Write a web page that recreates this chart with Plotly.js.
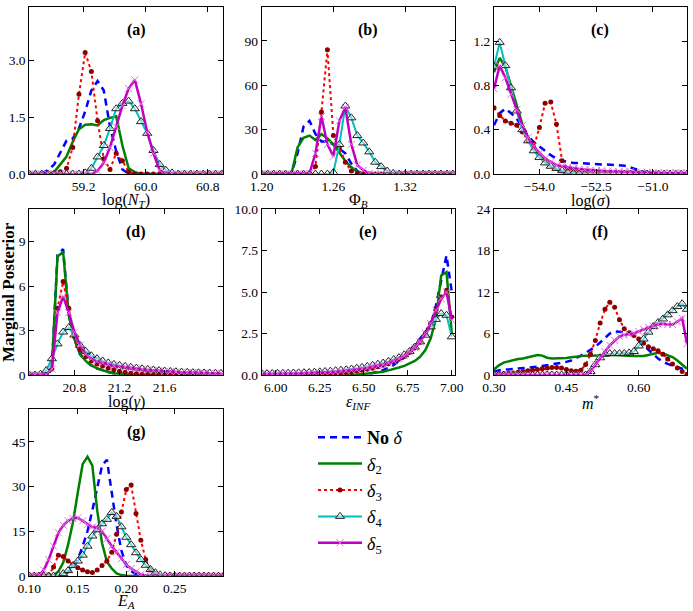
<!DOCTYPE html>
<html>
<head>
<meta charset="utf-8">
<script src="https://cdn.plot.ly/plotly-3.0.1.min.js"></script>
<style>
  html, body { margin: 0; padding: 0; background: #fff; }
  #chart { width: 693px; height: 611px; }
</style>
</head>
<body>
<div id="chart"></div>
<script>
// ---- Marginal posterior densities, one grid per parameter ----

// (a) log(N_T)
const xA = [58.50, 58.58, 58.66, 58.74, 58.82, 58.90, 58.98, 59.06, 59.14, 59.22, 59.30, 59.38, 59.46, 59.54, 59.62, 59.70, 59.78, 59.86, 59.94, 60.02, 60.10, 60.18, 60.26, 60.34, 60.42, 60.50, 60.58, 60.66, 60.74, 60.82, 60.90, 60.98];
const noDeltaA = [0, 0, 0.02, 0.1, 0.25, 0.55, 0.88, 0.93, 1.2, 1.65, 2.2, 2.45, 2.2, 1.25, 0.6, 0.12, 0.01, 0, 0, 0, 0, 0, 0, 0, 0, 0, 0, 0, 0, 0, 0, 0];
const delta2A = [0, 0, 0, 0, 0.05, 0.25, 0.46, 0.85, 1.18, 1.3, 1.31, 1.28, 1.42, 1.48, 1.52, 0.75, 0.15, 0.05, 0.01, 0, 0, 0, 0, 0, 0, 0, 0, 0, 0, 0, 0, 0];
const delta3A = [0, 0, 0, 0, 0.02, 0.06, 0.15, 0.7, 2.1, 3.2, 2.7, 1.4, 0.4, 0.12, 0.55, 0.35, 0.05, 0, 0, 0, 0, 0, 0, 0, 0, 0, 0, 0, 0, 0, 0, 0];
const delta4A = [0, 0, 0, 0, 0, 0, 0, 0, 0, 0.03, 0.15, 0.45, 0.75, 1.2, 1.72, 1.86, 1.92, 1.72, 1.38, 1.07, 0.62, 0.25, 0.1, 0.03, 0, 0, 0, 0, 0, 0, 0, 0];
const delta5A = [0, 0, 0, 0, 0, 0, 0, 0, 0, 0, 0, 0.08, 0.3, 0.7, 1.25, 1.8, 2.25, 2.48, 1.85, 1.1, 0.54, 0.1, 0.01, 0, 0, 0, 0, 0, 0, 0, 0, 0];

// (b) Phi_B
const xB = [1.200, 1.205, 1.210, 1.215, 1.220, 1.225, 1.230, 1.235, 1.240, 1.245, 1.250, 1.255, 1.260, 1.265, 1.270, 1.275, 1.280, 1.285, 1.290, 1.295, 1.300, 1.305, 1.310, 1.315, 1.320, 1.325, 1.330, 1.335, 1.340, 1.345, 1.350, 1.355, 1.360];
const noDeltaB = [0, 0, 0, 0, 0, 0.5, 14, 32, 36, 27, 22, 22, 20, 17, 14, 7, 2, 0, 0, 0, 0, 0, 0, 0, 0, 0, 0, 0, 0, 0, 0, 0, 0];
const delta2B = [0, 0, 0, 0, 0, 0.5, 18, 24.5, 26, 23, 27, 24, 20, 14, 8.8, 4.5, 1.5, 0.2, 0, 0, 0, 0, 0, 0, 0, 0, 0, 0, 0, 0, 0, 0, 0];
const delta3B = [0, 0, 0, 0, 0, 0, 0, 0, 0, 5, 42, 84, 26, 18, 8, 2, 0.3, 0, 0, 0, 0, 0, 0, 0, 0, 0, 0, 0, 0, 0, 0, 0, 0];
const delta4B = [0, 0, 0, 0, 0, 0, 0, 0, 0, 0, 0, 0, 1, 20, 46, 38, 26, 21, 15, 8, 5, 2, 0.5, 0, 0, 0, 0, 0, 0, 0, 0, 0, 0];
const delta5B = [0, 0, 0, 0, 0, 0, 0, 0, 0.5, 14, 39, 20, 12, 36, 45, 20, 6, 2.6, 0.5, 0, 0, 0, 0, 0, 0, 0, 0, 0, 0, 0, 0, 0, 0];

// (c) log(sigma)
const xC = [-55.20, -55.05, -54.90, -54.75, -54.60, -54.45, -54.30, -54.15, -54.00, -53.85, -53.70, -53.55, -53.40, -53.25, -53.10, -52.95, -52.80, -52.65, -52.50, -52.35, -52.20, -52.05, -51.90, -51.75, -51.60, -51.45, -51.30, -51.15, -51.00, -50.85, -50.70, -50.55, -50.40, -50.25, -50.10];
const noDeltaC = [0.44, 0.55, 0.59, 0.55, 0.5, 0.42, 0.34, 0.29, 0.25, 0.21, 0.17, 0.14, 0.12, 0.11, 0.1, 0.1, 0.095, 0.09, 0.09, 0.085, 0.085, 0.08, 0.08, 0.075, 0.06, 0.04, 0.025, 0.015, 0.01, 0.005, 0, 0, 0, 0, 0];
const delta2C = [0.92, 1.05, 0.97, 0.8, 0.62, 0.45, 0.33, 0.24, 0.16, 0.11, 0.07, 0.04, 0.02, 0.01, 0.005, 0, 0, 0, 0, 0, 0, 0, 0, 0, 0, 0, 0, 0, 0, 0, 0, 0, 0, 0, 0];
const delta3C = [0.6, 0.53, 0.48, 0.46, 0.44, 0.38, 0.3, 0.24, 0.42, 0.64, 0.65, 0.45, 0.12, 0.05, 0.03, 0.02, 0.015, 0.01, 0.01, 0.005, 0.005, 0, 0, 0, 0, 0, 0, 0, 0, 0, 0, 0, 0, 0, 0];
const delta4C = [0.97, 1.19, 0.98, 0.78, 0.57, 0.4, 0.3, 0.21, 0.15, 0.1, 0.07, 0.05, 0.03, 0.015, 0.01, 0.005, 0, 0, 0, 0, 0, 0, 0, 0, 0, 0, 0, 0, 0, 0, 0, 0, 0, 0, 0];
const delta5C = [0.77, 0.98, 0.87, 0.72, 0.58, 0.44, 0.33, 0.25, 0.19, 0.14, 0.11, 0.08, 0.07, 0.06, 0.05, 0.045, 0.04, 0.035, 0.03, 0.03, 0.025, 0.025, 0.02, 0.02, 0.02, 0.015, 0.015, 0.015, 0.01, 0.01, 0.01, 0.01, 0.01, 0.01, 0.01];

// (d) log(gamma)
const xD = [20.40, 20.45, 20.50, 20.55, 20.60, 20.65, 20.70, 20.75, 20.80, 20.85, 20.90, 20.95, 21.00, 21.05, 21.10, 21.15, 21.20, 21.25, 21.30, 21.35, 21.40, 21.45, 21.50, 21.55, 21.60, 21.65, 21.70, 21.75, 21.80, 21.85, 21.90, 21.95, 22.00, 22.05, 22.10];
const noDeltaD = [0, 0, 0, 0.02, 0.5, 8.1, 8.5, 4.1, 2.4, 1.4, 0.95, 0.65, 0.45, 0.3, 0.2, 0.12, 0.07, 0.04, 0.02, 0.01, 0, 0, 0, 0, 0, 0, 0, 0, 0, 0, 0, 0, 0, 0, 0];
const delta2D = [0, 0, 0, 0.02, 0.5, 8.0, 8.3, 4.0, 2.4, 1.4, 0.95, 0.65, 0.45, 0.3, 0.2, 0.12, 0.07, 0.04, 0.02, 0.01, 0, 0, 0, 0, 0, 0, 0, 0, 0, 0, 0, 0, 0, 0, 0];
const delta3D = [0, 0, 0, 0.02, 0.4, 4.5, 6.3, 4.5, 2.6, 1.7, 1.25, 0.95, 0.75, 0.6, 0.45, 0.35, 0.25, 0.18, 0.12, 0.08, 0.05, 0.03, 0.02, 0.01, 0, 0, 0, 0, 0, 0, 0, 0, 0, 0, 0];
const delta4D = [0, 0, 0.05, 0.3, 1.1, 2.1, 2.9, 3.2, 2.7, 2.0, 1.6, 1.3, 1.1, 0.95, 0.82, 0.72, 0.65, 0.58, 0.52, 0.47, 0.42, 0.38, 0.34, 0.3, 0.27, 0.24, 0.22, 0.2, 0.18, 0.16, 0.15, 0.14, 0.13, 0.12, 0.11];
const delta5D = [0, 0, 0, 0.03, 0.4, 4.2, 5.3, 4.2, 2.9, 2.0, 1.4, 1.1, 0.92, 0.8, 0.72, 0.63, 0.57, 0.52, 0.47, 0.42, 0.38, 0.34, 0.31, 0.28, 0.25, 0.22, 0.2, 0.18, 0.16, 0.15, 0.14, 0.13, 0.12, 0.11, 0.1];

// (e) epsilon_INF
const xE = [5.92, 5.95, 5.98, 6.01, 6.04, 6.07, 6.10, 6.13, 6.16, 6.19, 6.22, 6.25, 6.28, 6.31, 6.34, 6.37, 6.40, 6.43, 6.46, 6.49, 6.52, 6.55, 6.58, 6.61, 6.64, 6.67, 6.70, 6.73, 6.76, 6.79, 6.82, 6.85, 6.88, 6.91, 6.94, 6.97, 7.00];
const noDeltaE = [0, 0, 0, 0, 0, 0, 0, 0, 0, 0, 0, 0, 0, 0, 0, 0, 0, 0, 0, 0.05, 0.08, 0.12, 0.2, 0.3, 0.45, 0.6, 0.85, 1.1, 1.45, 1.8, 2.2, 2.6, 3.0, 4.2, 5.8, 7.2, 5.0];
const delta2E = [0, 0, 0, 0, 0, 0, 0, 0, 0, 0, 0, 0, 0, 0, 0, 0, 0, 0, 0, 0.05, 0.08, 0.1, 0.15, 0.2, 0.28, 0.35, 0.45, 0.55, 0.7, 0.85, 1.1, 1.5, 2.2, 3.4, 6.0, 6.2, 2.5];
const delta3E = [0, 0, 0, 0, 0, 0, 0, 0, 0, 0, 0.01, 0.02, 0.03, 0.05, 0.07, 0.1, 0.13, 0.17, 0.22, 0.28, 0.34, 0.41, 0.49, 0.58, 0.68, 0.8, 0.95, 1.12, 1.35, 1.62, 1.98, 2.5, 3.1, 3.9, 4.7, 5.1, 3.5];
const delta4E = [0.08, 0.08, 0.09, 0.1, 0.1, 0.11, 0.12, 0.13, 0.14, 0.15, 0.17, 0.19, 0.21, 0.23, 0.26, 0.29, 0.32, 0.36, 0.41, 0.46, 0.52, 0.58, 0.65, 0.72, 0.82, 0.93, 1.05, 1.22, 1.42, 1.68, 2.0, 2.4, 2.9, 3.35, 3.7, 3.6, 2.3];
const delta5E = [0.05, 0.05, 0.06, 0.06, 0.07, 0.07, 0.08, 0.09, 0.1, 0.11, 0.12, 0.13, 0.15, 0.17, 0.19, 0.22, 0.25, 0.28, 0.32, 0.37, 0.42, 0.48, 0.55, 0.62, 0.72, 0.84, 0.98, 1.15, 1.38, 1.65, 2.0, 2.5, 3.1, 3.9, 4.6, 5.0, 3.3];

// (f) m*
const xF = [0.30, 0.31, 0.32, 0.33, 0.34, 0.35, 0.36, 0.37, 0.38, 0.39, 0.40, 0.41, 0.42, 0.43, 0.44, 0.45, 0.46, 0.47, 0.48, 0.49, 0.50, 0.51, 0.52, 0.53, 0.54, 0.55, 0.56, 0.57, 0.58, 0.59, 0.60, 0.61, 0.62, 0.63, 0.64, 0.65, 0.66, 0.67, 0.68, 0.69, 0.70];
const noDeltaF = [0.5, 0.7, 0.8, 0.8, 0.85, 0.9, 0.95, 1.0, 1.1, 1.2, 1.3, 1.4, 1.5, 1.6, 1.7, 1.9, 2.1, 2.4, 2.8, 3.2, 3.6, 4.1, 4.7, 5.4, 6.0, 6.3, 6.3, 6.2, 6.0, 5.6, 5.0, 4.3, 3.6, 3.0, 2.4, 1.9, 1.6, 1.4, 1.2, 0.9, 0.5];
const delta2F = [0.8, 1.4, 1.8, 2.0, 2.1, 2.3, 2.4, 2.6, 2.8, 2.9, 2.8, 2.5, 2.4, 2.4, 2.4, 2.45, 2.55, 2.65, 2.7, 2.8, 2.8, 2.85, 2.9, 2.9, 2.9, 2.9, 2.9, 2.85, 2.8, 2.75, 2.7, 2.75, 2.9, 3.1, 3.2, 3.1, 2.9, 2.6, 2.1, 1.5, 0.9];
const delta3F = [0.2, 0.2, 0.2, 0.25, 0.3, 0.4, 0.5, 0.6, 0.7, 0.8, 0.9, 1.0, 1.1, 1.1, 1.0, 0.8, 0.6, 0.55, 0.7, 1.5, 3.0, 5.0, 7.5, 9.5, 10.5, 9.8, 8.0, 6.7, 6.1, 5.7, 5.2, 4.6, 4.1, 3.8, 3.5, 3.0, 2.3, 1.6, 1.0, 0.5, 0.1];
const delta4F = [0, 0, 0, 0, 0, 0, 0, 0, 0, 0, 0, 0, 0, 0, 0, 0, 0, 0, 0, 0, 0.5, 1.5, 2.5, 3.0, 3.1, 3.1, 3.1, 3.1, 3.2, 3.4, 4.2, 5.2, 6.2, 7.0, 7.6, 8.1, 8.7, 9.3, 9.9, 10.3, 9.5];
const delta5F = [0, 0, 0, 0, 0, 0, 0, 0, 0, 0, 0, 0, 0, 0, 0, 0, 0, 0, 0, 0, 0.5, 1.5, 2.5, 3.4, 4.3, 5.0, 5.6, 5.8, 5.9, 6.0, 6.3, 6.6, 6.9, 7.1, 7.3, 7.4, 7.3, 7.3, 7.7, 8.2, 4.5];

// (g) E_A
const xG = [0.100, 0.105, 0.110, 0.115, 0.120, 0.125, 0.130, 0.135, 0.140, 0.145, 0.150, 0.155, 0.160, 0.165, 0.170, 0.175, 0.180, 0.185, 0.190, 0.195, 0.200, 0.205, 0.210, 0.215, 0.220, 0.225, 0.230, 0.235, 0.240, 0.245, 0.250, 0.255, 0.260, 0.265, 0.270, 0.275, 0.280, 0.285, 0.290, 0.295, 0.300];
const noDeltaG = [0, 0, 0, 0, 0, 0, 0.1, 0.5, 1.3, 2.4, 5.5, 10, 15, 22, 30, 37, 39, 28, 17, 8.5, 3.5, 1.6, 0.6, 0.2, 0, 0, 0, 0, 0, 0, 0, 0, 0, 0, 0, 0, 0, 0, 0, 0, 0];
const delta2G = [0, 0, 0, 0, 0, 0.1, 1.5, 4.5, 10.5, 18, 28, 37.5, 40, 37, 22, 11, 4.8, 2.5, 0.9, 0.3, 0.1, 0, 0, 0, 0, 0, 0, 0, 0, 0, 0, 0, 0, 0, 0, 0, 0, 0, 0, 0, 0];
const delta3G = [0, 0, 0, 0, 0.3, 3, 7, 6.5, 5, 3.8, 2.8, 2, 1.4, 1.2, 2, 3.5, 5, 8, 14, 21.5, 29, 30.5, 21, 12, 5.5, 2, 0.8, 0.2, 0, 0, 0, 0, 0, 0, 0, 0, 0, 0, 0, 0, 0];
const delta4G = [0, 0, 0, 0, 0, 0, 0.2, 0.8, 1.8, 3.5, 5, 7, 10, 13.4, 15.5, 17.5, 19, 21.3, 20, 16.5, 13, 10.5, 7.8, 5.5, 3.6, 2.2, 1.1, 0.4, 0.1, 0, 0, 0, 0, 0, 0, 0, 0, 0, 0, 0, 0];
const delta5G = [0, 0, 0.2, 2, 5.5, 10, 14.5, 17, 18.5, 19.3, 19.5, 18.5, 17.3, 16.4, 16.2, 15, 12.5, 10, 8, 5.8, 3.8, 2.5, 1.4, 0.5, 0.1, 0, 0, 0, 0, 0, 0, 0, 0, 0, 0, 0, 0, 0, 0, 0, 0];

// Tick values and labels
const ticksA = {x: [59.2, 60.0, 60.8], xt: ['59.2', '60.0', '60.8'], y: [0, 1.5, 3.0], yt: ['0.0', '1.5', '3.0']};
const ticksB = {x: [1.20, 1.26, 1.32], xt: ['1.20', '1.26', '1.32'], y: [0, 30, 60, 90], yt: ['0', '30', '60', '90']};
const ticksC = {x: [-54.0, -52.5, -51.0], xt: ['\u221254.0', '\u221252.5', '\u221251.0'], y: [0, 0.4, 0.8, 1.2], yt: ['0.0', '0.4', '0.8', '1.2']};
const ticksD = {x: [20.8, 21.2, 21.6], xt: ['20.8', '21.2', '21.6'], y: [0, 3, 6, 9], yt: ['0', '3', '6', '9']};
const ticksE = {x: [6.0, 6.25, 6.5, 6.75, 7.0], xt: ['6.00', '6.25', '6.50', '6.75', '7.00'], y: [0, 2.5, 5, 7.5, 10], yt: ['0.0', '2.5', '5.0', '7.5', '10.0']};
const ticksF = {x: [0.30, 0.45, 0.60], xt: ['0.30', '0.45', '0.60'], y: [0, 6, 12, 18, 24], yt: ['0', '6', '12', '18', '24']};
const ticksG = {x: [0.10, 0.15, 0.20, 0.25], xt: ['0.10', '0.15', '0.20', '0.25'], y: [0, 15, 30, 45], yt: ['0', '15', '30', '45']};

const seriesNames = ['<b>No</b> <i>\u03b4</i>', '<i>\u03b4</i><sub>2</sub>', '<i>\u03b4</i><sub>3</sub>', '<i>\u03b4</i><sub>4</sub>', '<i>\u03b4</i><sub>5</sub>'];
const panelLetters = ['(a)', '(b)', '(c)', '(d)', '(e)', '(f)', '(g)'];
const axisTitles = ['log(<i>N</i><sub><i>T</i></sub>)', '\u03a6<sub><i>B</i></sub>', 'log(<i>\u03c3</i>)', 'log(<i>\u03b3</i>)', '<i>\u03b5</i><sub><i>INF</i></sub>', '<i>m</i><sup>*</sup>', '<i>E</i><sub><i>A</i></sub>'];

// ---- Figure assembly ----
const W = 693, H = 611;
const SERIF = 'Liberation Serif, DejaVu Serif, serif';

const panels = [
  {x: xA, ys: [noDeltaA, delta2A, delta3A, delta4A, delta5A], t: ticksA, xr: [58.5, 61.0], yr: [0, 4.4], col: 0, row: 0},
  {x: xB, ys: [noDeltaB, delta2B, delta3B, delta4B, delta5B], t: ticksB, xr: [1.2, 1.362], yr: [0, 113], col: 1, row: 0},
  {x: xC, ys: [noDeltaC, delta2C, delta3C, delta4C, delta5C], t: ticksC, xr: [-55.2, -50.1], yr: [0, 1.51], col: 2, row: 0},
  {x: xD, ys: [noDeltaD, delta2D, delta3D, delta4D, delta5D], t: ticksD, xr: [20.4, 22.12], yr: [0, 11.2], col: 0, row: 1},
  {x: xE, ys: [noDeltaE, delta2E, delta3E, delta4E, delta5E], t: ticksE, xr: [5.92, 7.02], yr: [0, 10], col: 1, row: 1},
  {x: xF, ys: [noDeltaF, delta2F, delta3F, delta4F, delta5F], t: ticksF, xr: [0.30, 0.70], yr: [0, 24], col: 2, row: 1},
  {x: xG, ys: [noDeltaG, delta2G, delta3G, delta4G, delta5G], t: ticksG, xr: [0.10, 0.30], yr: [0, 56], col: 0, row: 2}
];

const colDomains = [[29.3 / W, 223.3 / W], [261.7 / W, 455.3 / W], [494 / W, 687 / W]];
const rowDomains = [[1 - 174 / H, 1 - 7 / H], [1 - 375 / H, 1 - 209 / H], [1 - 576 / H, 1 - 409 / H]];
const titleRowsPx = [201, 402, 601];

const styles = [
  {mode: 'lines', line: {color: '#0000ff', width: 2.5, dash: '7px,5px'}},
  {mode: 'lines', line: {color: '#008000', width: 2.5}},
  {mode: 'lines+markers', line: {color: '#ff0000', width: 2, dash: 'dot'},
   marker: {symbol: 'circle', size: 5, color: '#8b0000'}},
  {mode: 'lines+markers', line: {color: '#00bfbf', width: 2},
   marker: {symbol: 'triangle-up', size: 8, color: 'rgba(255,255,255,0.45)', line: {color: '#222222', width: 1}}},
  {mode: 'lines+markers', line: {color: '#bf00bf', width: 2.5},
   marker: {symbol: 'x-thin', size: 7, color: '#e070e0', line: {color: '#e070e0', width: 1}}}
];

const traces = [];
const layout = {
  width: W, height: H,
  margin: {l: 0, r: 0, t: 0, b: 0},
  paper_bgcolor: '#ffffff', plot_bgcolor: '#ffffff',
  showlegend: true,
  legend: {
    x: 313 / W, y: 1 - 419 / H, xanchor: 'left', yanchor: 'top',
    font: {family: SERIF, size: 18, color: '#000'},
    bgcolor: 'rgba(0,0,0,0)', tracegroupgap: 0, itemwidth: 44
  },
  annotations: []
};

panels.forEach((p, i) => {
  const n = i + 1;
  const xa = n === 1 ? 'x' : 'x' + n;
  const ya = n === 1 ? 'y' : 'y' + n;
  const axCommon = {
    showline: true, linecolor: '#000', linewidth: 1, mirror: 'ticks',
    ticks: 'inside', ticklen: 5, tickwidth: 1, tickcolor: '#000',
    showgrid: false, zeroline: false, fixedrange: true,
    tickfont: {family: SERIF, size: 13.5, color: '#000'}
  };
  layout['xaxis' + (n === 1 ? '' : n)] = Object.assign({}, axCommon, {
    domain: colDomains[p.col], anchor: ya, range: p.xr,
    tickmode: 'array', tickvals: p.t.x, ticktext: p.t.xt
  });
  layout['yaxis' + (n === 1 ? '' : n)] = Object.assign({}, axCommon, {
    domain: rowDomains[p.row], anchor: xa, range: p.yr,
    tickmode: 'array', tickvals: p.t.y, ticktext: p.t.yt
  });

  p.ys.forEach((y, s) => {
    traces.push(Object.assign({
      type: 'scatter', x: p.x, y: y, xaxis: xa, yaxis: ya,
      name: seriesNames[s], legendgroup: 'g' + s, showlegend: i === 0,
      cliponaxis: true, hoverinfo: 'skip'
    }, JSON.parse(JSON.stringify(styles[s]))));
  });

  // panel letter
  layout.annotations.push({
    text: '<b>' + panelLetters[i] + '</b>', xref: xa + ' domain', yref: ya + ' domain',
    x: 0.55, y: 0.86, xanchor: 'center', yanchor: 'middle', showarrow: false,
    font: {family: SERIF, size: 16, color: '#000'}
  });
  // x-axis title under the tick labels
  layout.annotations.push({
    text: axisTitles[i], xref: xa + ' domain', yref: 'paper',
    x: 0.5, y: 1 - titleRowsPx[p.row] / H, xanchor: 'center', yanchor: 'middle', showarrow: false,
    font: {family: SERIF, size: 16, color: '#000'}
  });
});

// shared y-axis title
layout.annotations.push({
  text: '<b>Marginal Posterior</b>', xref: 'paper', yref: 'paper',
  x: 8 / W, y: 1 - 292 / H, xanchor: 'center', yanchor: 'middle', textangle: -90,
  showarrow: false, font: {family: SERIF, size: 17, color: '#000'}
});

Plotly.newPlot('chart', traces, layout, {displayModeBar: false, staticPlot: true});
</script>
</body>
</html>
